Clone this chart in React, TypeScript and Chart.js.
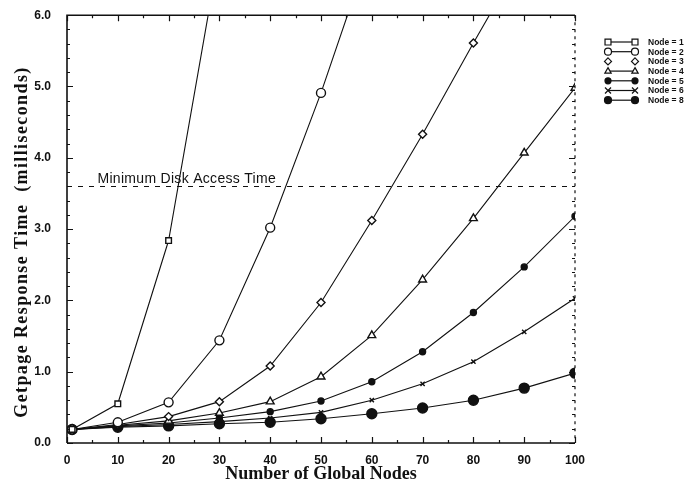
import React, { useEffect, useRef } from "react";
import { Chart, registerables } from "chart.js";

Chart.register(...registerables);

// ---- data ----
const globalNodes = [1, 10, 20, 30, 40, 50, 60, 70, 80, 90, 100];
const node1 = [0.19, 0.55, 2.84, 6.9];
const node2 = [0.19, 0.29, 0.57, 1.44, 3.02, 4.91, 7.0];
const node3 = [0.19, 0.26, 0.37, 0.58, 1.08, 1.97, 3.12, 4.33, 5.61, 6.85];
const node4 = [0.19, 0.25, 0.31, 0.42, 0.58, 0.93, 1.51, 2.29, 3.15, 4.07, 4.98];
const node5 = [0.19, 0.24, 0.28, 0.35, 0.44, 0.59, 0.86, 1.28, 1.83, 2.47, 3.18];
const node6 = [0.19, 0.23, 0.26, 0.3, 0.35, 0.43, 0.6, 0.83, 1.14, 1.56, 2.03];
const node8 = [0.19, 0.22, 0.24, 0.27, 0.29, 0.34, 0.41, 0.49, 0.6, 0.77, 0.98];
const seriesLabels = ["Node = 1", "Node = 2", "Node = 3", "Node = 4", "Node = 5", "Node = 6", "Node = 8"];
const diskAccessTime = 3.6;
const diskLabel = "Minimum Disk Access Time";
const xTitle = "Number of Global Nodes";
const yTitle = "Getpage Response Time  (milliseconds)";

type Style = { shape: string; r: number; fill: boolean };
const styles: Style[] = [
  { shape: "rect", r: 4, fill: false },
  { shape: "circle", r: 4.5, fill: false },
  { shape: "rectRot", r: 4, fill: false },
  { shape: "triangle", r: 4.5, fill: false },
  { shape: "circle", r: 3, fill: true },
  { shape: "crossRot", r: 3, fill: false },
  { shape: "circle", r: 5, fill: true },
];

function drawMarker(ctx: CanvasRenderingContext2D, s: Style, x: number, y: number) {
  const r = s.r;
  ctx.beginPath();
  if (s.shape === "circle") {
    ctx.arc(x, y, r, 0, Math.PI * 2);
  } else if (s.shape === "rect") {
    const h = r * 0.85;
    ctx.rect(x - h, y - h, 2 * h, 2 * h);
  } else if (s.shape === "rectRot") {
    ctx.moveTo(x, y - r);
    ctx.lineTo(x + r, y);
    ctx.lineTo(x, y + r);
    ctx.lineTo(x - r, y);
    ctx.closePath();
  } else if (s.shape === "triangle") {
    ctx.moveTo(x, y - r);
    ctx.lineTo(x + r * 0.9, y + r * 0.6);
    ctx.lineTo(x - r * 0.9, y + r * 0.6);
    ctx.closePath();
  } else if (s.shape === "crossRot") {
    ctx.moveTo(x - r, y - r);
    ctx.lineTo(x + r, y + r);
    ctx.moveTo(x + r, y - r);
    ctx.lineTo(x - r, y + r);
  }
  if (s.fill) {
    ctx.fillStyle = "#111";
    ctx.fill();
  } else if (s.shape !== "crossRot") {
    ctx.fillStyle = "#fff";
    ctx.fill();
  }
  ctx.stroke();
}

const framePlugin = {
  id: "frame",
  afterDraw(chart: any) {
    const { ctx, chartArea: a, scales } = chart;
    const x = scales.x;
    const y = scales.y;
    ctx.save();
    ctx.strokeStyle = "#111";
    ctx.lineWidth = 1.6;
    ctx.beginPath();
    ctx.moveTo(a.left, a.bottom);
    ctx.lineTo(a.left, a.top);
    ctx.lineTo(a.right, a.top);
    ctx.moveTo(a.left, a.bottom);
    ctx.lineTo(a.right, a.bottom);
    ctx.stroke();
    ctx.lineWidth = 1.2;
    ctx.setLineDash([3, 4]);
    ctx.beginPath();
    ctx.moveTo(a.right, a.top);
    ctx.lineTo(a.right, a.bottom);
    ctx.stroke();
    ctx.setLineDash([]);

    // inward ticks
    ctx.lineWidth = 1.2;
    ctx.beginPath();
    for (let i = 0; i <= 30; i++) {
      const v = i * 0.2;
      const py = Math.round(y.getPixelForValue(v)) + 0.5;
      const len = i % 5 === 0 ? 6 : 3;
      ctx.moveTo(a.left, py);
      ctx.lineTo(a.left + len, py);
      ctx.moveTo(a.right, py);
      ctx.lineTo(a.right - len, py);
    }
    for (let i = 0; i <= 20; i++) {
      const v = i * 5;
      const px = Math.round(x.getPixelForValue(v)) + 0.5;
      const len = i % 2 === 0 ? 6 : 3;
      ctx.moveTo(px, a.bottom);
      ctx.lineTo(px, a.bottom - len);
      ctx.moveTo(px, a.top);
      ctx.lineTo(px, a.top + len);
    }
    ctx.stroke();

    // minimum disk access time
    const dy = Math.round(y.getPixelForValue(diskAccessTime)) + 0.5;
    ctx.lineWidth = 1.2;
    ctx.setLineDash([5, 6]);
    ctx.beginPath();
    ctx.moveTo(a.left, dy);
    ctx.lineTo(a.right, dy);
    ctx.stroke();
    ctx.setLineDash([]);
    ctx.fillStyle = "#111";
    ctx.font = "14px 'Liberation Sans', Arial, sans-serif";
    (ctx as any).letterSpacing = "0.3px";
    ctx.textBaseline = "alphabetic";
    ctx.textAlign = "left";
    ctx.fillText(diskLabel, x.getPixelForValue(6), dy - 4);

    // y axis title
    ctx.save();
    ctx.translate(22, 242);
    ctx.rotate(-Math.PI / 2);
    ctx.font = "bold 18px 'Liberation Serif', 'Times New Roman', serif";
    (ctx as any).letterSpacing = "1.4px";
    ctx.textAlign = "center";
    ctx.textBaseline = "middle";
    ctx.fillText(yTitle, 0, 0);
    ctx.restore();
    (ctx as any).letterSpacing = "0px";

    // legend
    const lx1 = 608;
    const lx2 = 635;
    const ty = 42;
    const step = 9.7;
    ctx.font = "bold 8.5px 'Liberation Sans', Arial, sans-serif";
    ctx.textBaseline = "middle";
    ctx.textAlign = "left";
    seriesLabels.forEach((lab, i) => {
      const yy = ty + i * step;
      const s = styles[i];
      ctx.strokeStyle = "#111";
      ctx.lineWidth = 1.2;
      if (i !== 2) {
        ctx.beginPath();
        ctx.moveTo(lx1, yy);
        ctx.lineTo(lx2, yy);
        ctx.stroke();
      }
      const sm = { ...s, r: Math.min(s.r, 3.5) };
      drawMarker(ctx, sm, lx1, yy);
      drawMarker(ctx, sm, lx2, yy);
      ctx.fillStyle = "#111";
      ctx.fillText(lab, 648, yy + 0.5);
    });
    ctx.restore();
  },
};

export default function App() {
  const ref = useRef<HTMLCanvasElement | null>(null);
  useEffect(() => {
    document.body.style.margin = "0";
    const seriesValues = [node1, node2, node3, node4, node5, node6, node8];
    const datasets = seriesValues.map((vals, i) => {
      const s = styles[i];
      return {
        label: seriesLabels[i],
        data: vals.map((v, j) => ({ x: globalNodes[j], y: v })),
        borderColor: "#111",
        borderWidth: 1.1,
        pointStyle: s.shape,
        pointRadius: s.r,
        pointBorderWidth: 1.4,
        pointBorderColor: "#111",
        pointBackgroundColor: s.fill ? "#111" : "#fff",
        tension: 0,
        fill: false,
      };
    });
    const chart = new Chart(ref.current as HTMLCanvasElement, {
      type: "line",
      data: { datasets } as any,
      options: {
        animation: false,
        responsive: false,
        layout: { padding: { left: 8, right: 116, top: 15, bottom: 0 } },
        plugins: { legend: { display: false }, tooltip: { enabled: false } },
        scales: {
          x: {
            type: "linear",
            min: 0,
            max: 100,
            grid: { display: false },
            border: { display: false },
            ticks: {
              stepSize: 10,
              color: "#111",
              padding: 2,
              maxRotation: 0,
              font: { family: "'Liberation Sans', Arial, sans-serif", size: 12, weight: "bold" },
            },
            title: {
              display: true,
              text: xTitle,
              color: "#111",
              padding: { top: 0, bottom: 0 },
              font: { family: "'Liberation Serif', 'Times New Roman', serif", size: 18, weight: "bold" },
            },
            afterFit: (s: any) => {
              s.height = 42;
            },
          },
          y: {
            type: "linear",
            min: 0,
            max: 6,
            grid: { display: false },
            border: { display: false },
            ticks: {
              stepSize: 1,
              color: "#111",
              padding: 8,
              callback: (v: any) => Number(v).toFixed(1),
              font: { family: "'Liberation Sans', Arial, sans-serif", size: 12, weight: "bold" },
            },
            title: { display: false },
            afterFit: (s: any) => {
              s.width = 59;
            },
          },
        },
      } as any,
      plugins: [framePlugin],
    });
    return () => chart.destroy();
  }, []);
  return (
    <div style={{ width: 691, height: 485, background: "#fff" }}>
      <canvas ref={ref} width={691} height={485} />
    </div>
  );
}
